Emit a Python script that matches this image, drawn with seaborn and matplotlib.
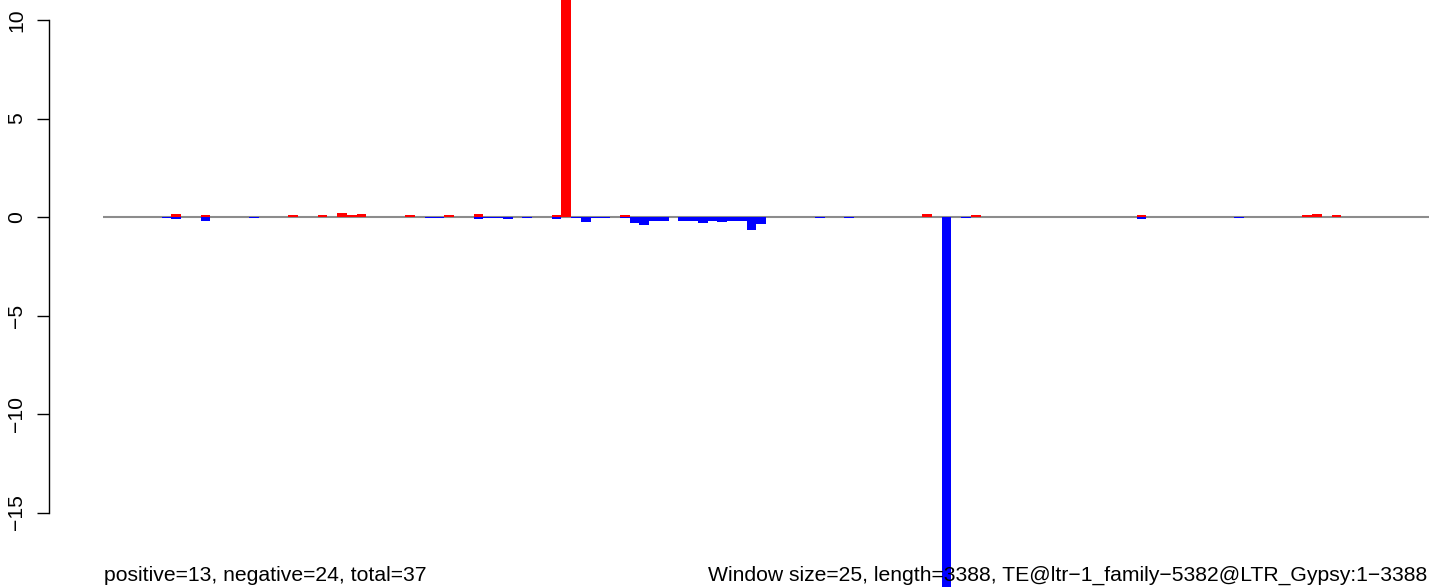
import numpy as np
import pandas as pd
import matplotlib
matplotlib.use('Agg')
import matplotlib.pyplot as plt
import seaborn as sns

# windows of 25 bp over a 3388 bp element
n_windows = 136
pos_windows = [7, 10, 19, 22, 24, 25, 26, 31, 35, 38, 46, 47, 53, 84, 89, 106, 123, 124, 126]
pos_values = [0.14, 0.08, 0.08, 0.08, 0.18, 0.08, 0.13, 0.08, 0.08, 0.13, 0.08, 14.0, 0.08,
              0.13, 0.08, 0.08, 0.08, 0.13, 0.08]
neg_windows = [6, 7, 10, 15, 33, 34, 38, 39, 40, 41, 43, 46, 48, 49, 50, 51, 53, 54, 55, 56,
               57, 59, 60, 61, 62, 63, 64, 65, 66, 67, 73, 76, 86, 88, 106, 116]
neg_values = [-0.06, -0.12, -0.22, -0.06, -0.06, -0.06, -0.12, -0.06, -0.06, -0.12, -0.06, -0.12,
              -0.06, -0.27, -0.06, -0.06, -0.06, -0.32, -0.42, -0.22, -0.22, -0.22, -0.22, -0.32,
              -0.22, -0.27, -0.22, -0.22, -0.68, -0.37, -0.06, -0.06, -20.0, -0.06, -0.12, -0.06]
yticks = [-15, -10, -5, 0, 5, 10]
left_text = "positive=13, negative=24, total=37"
right_text = "Window size=25, length=3388, TE@ltr\u22121_family\u22125382@LTR_Gypsy:1\u22123388"

pos_df = pd.DataFrame({'window': pos_windows, 'value': pos_values})
neg_df = pd.DataFrame({'window': neg_windows, 'value': neg_values})
order = list(range(n_windows))

plt.rcParams['font.family'] = ['Liberation Sans', 'DejaVu Sans']
W, H = 1429, 587
fs = 15.2
fig = plt.figure(figsize=(W / 100, H / 100), dpi=100)
ax = fig.add_axes([103 / W, 0, 1 - 103 / W, 1])

ax.axhline(0, color='#8c8c8c', lw=1.5, zorder=1)
sns.barplot(data=pos_df, x='window', y='value', order=order, color='#ff0000', width=1,
            saturation=1, errorbar=None, linewidth=0, ax=ax, zorder=2)
sns.barplot(data=neg_df, x='window', y='value', order=order, color='#0000ff', width=1,
            saturation=1, errorbar=None, linewidth=0, ax=ax, zorder=2)

# spines first: set_position resets the ticks
for s in ['top', 'right', 'bottom']:
    ax.spines[s].set_visible(False)
ax.spines['left'].set_position(('outward', 54 * 0.72))
ax.spines['left'].set_bounds(-15, 10)
ax.spines['left'].set_linewidth(1)

ax.set_xlim(-0.5, n_windows - 0.5)
ax.set_ylim(-(H - 217) / 19.7, 217 / 19.7)
ax.set_xlabel('')
ax.set_ylabel('')
ax.set_xticks([])
ax.set_yticks(yticks)
ax.set_yticklabels([str(t).replace('-', '\u2212') for t in yticks])
ax.tick_params(axis='y', length=8.6, width=1, pad=8, color='black', labelsize=fs)
plt.setp(ax.get_yticklabels(), rotation=90, va='center', ha='right')
ax.patch.set_alpha(0)

fig.text(104 / W, 1 - 581 / H, left_text, fontsize=fs, va='baseline', ha='left')
fig.text(708 / W, 1 - 581 / H, right_text, fontsize=fs, va='baseline', ha='left', zorder=5)

fig.savefig('out.png', dpi=100)
